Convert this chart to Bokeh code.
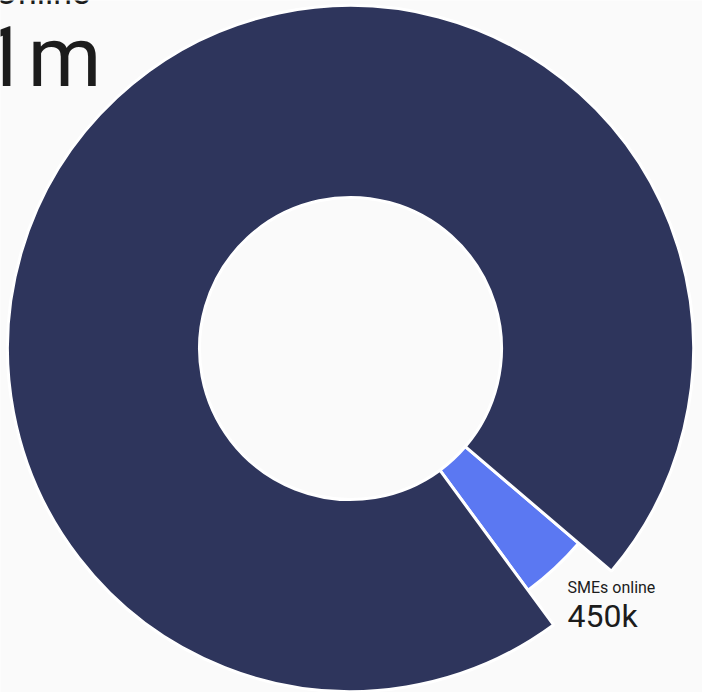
import numpy as np
from bokeh.plotting import figure
from bokeh.models import Range1d, ColumnDataSource
from bokeh.embed import file_html
from bokeh.resources import INLINE
from bokeh.core.properties import value

# ---- data ----
categories = ["Online", "SMEs online"]
shares = [96.33, 3.67]          # share of the ring (percent)
value_labels = ["1m", "450k"]
outer_radii = [343, 300]        # variable outer radius per slice (px)
colors = ["#2e355c", "#5b78f2"]

W, H = 702, 692
BG = "#fafafa"
INK = "#1c1c1c"

p = figure(width=W, height=H, x_range=Range1d(0, W), y_range=Range1d(0, H),
           output_backend="svg", toolbar_location=None, min_border=0)
p.axis.visible = False
p.grid.visible = False
p.outline_line_color = None
p.background_fill_color = BG
p.border_fill_color = BG


def px(x):
    return x


def py(y):
    return H - y


cx, cy = px(350), py(348)
inner_r = 151

# draw order: small slice first, starting at -53.7 deg, anticlockwise
order = [1, 0]
tot = float(sum(shares))
start = np.deg2rad(-53.7)
starts, ends = [], []
a = start
for i in order:
    span = 2 * np.pi * shares[i] / tot
    starts.append(a)
    ends.append(a + span)
    a += span

src = ColumnDataSource(dict(
    x=[cx] * 2, y=[cy] * 2,
    inner=[inner_r] * 2,
    outer=[outer_radii[i] for i in order],
    start=starts, end=ends,
    color=[colors[i] for i in order],
    name=[categories[i] for i in order],
))
p.annular_wedge(x="x", y="y", inner_radius="inner", outer_radius="outer",
                start_angle="start", end_angle="end", fill_color="color",
                line_color="white", line_width=3, source=src)

font = value("Roboto")


def label(x, baseline, txt, size):
    # compensate the renderer's baseline offset (~0.33 em)
    p.text(x=[px(x)], y=[py(baseline - 0.33 * size)], text=[txt], text_font=font,
           text_font_size=f"{size}px", text_color=INK, text_baseline="alphabetic")


# big slice label (top-left)
label(-6, 3, categories[0], 34)
label(-20, 85, value_labels[0], 84)
# small slice label
label(567, 592, categories[1], 16)
label(567, 626, value_labels[1], 32)

open("out.html", "w").write(file_html(p, INLINE))
